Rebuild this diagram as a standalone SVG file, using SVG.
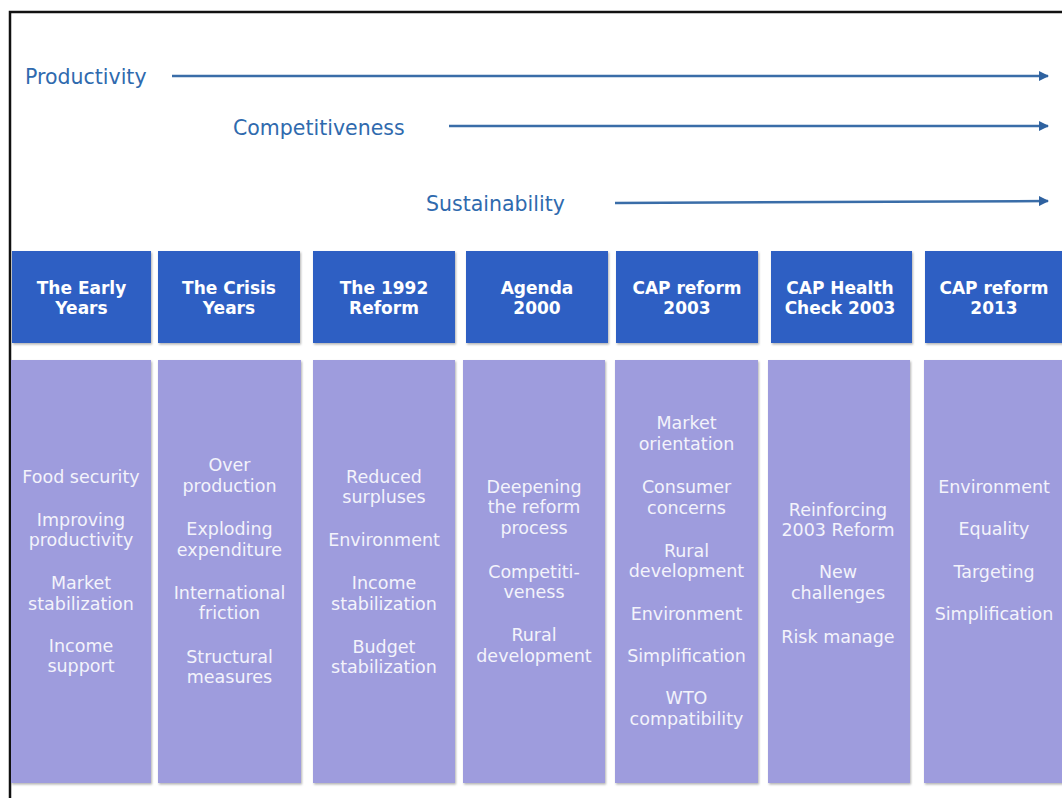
<svg xmlns="http://www.w3.org/2000/svg" width="1062" height="798" viewBox="0 0 1062 798">
<style>
.lbl{font-family:"DejaVu Sans",Verdana,sans-serif;font-size:20.5px;fill:#2F6AAE}
.hd{fill:#2D5FC3}
.bd{fill:#9E9CDD}
.ht{font-family:"DejaVu Sans",Verdana,sans-serif;font-size:17px;font-weight:bold;fill:#FFFFFF;text-anchor:middle}
.bt{font-family:"DejaVu Sans",Verdana,sans-serif;font-size:17.5px;fill:#F3F3FB;text-anchor:middle}
.arr{stroke:#3A6DA8;stroke-width:2.5;fill:none;marker-end:url(#ah)}
</style>
<defs>
<marker id="ah" viewBox="0 0 10 10" refX="9" refY="5" markerWidth="4" markerHeight="4" orient="auto" markerUnits="strokeWidth">
<path d="M0,0 L10,5 L0,10 z" fill="#2F62A0"/>
</marker>
<filter id="sh" x="-5%" y="-5%" width="115%" height="115%">
<feDropShadow dx="1" dy="1.5" stdDeviation="1.2" flood-color="#000" flood-opacity="0.3"/>
</filter>
</defs>
<rect width="1062" height="798" fill="#FFFFFF"/>
<path d="M10,798 V12 H1062" fill="none" stroke="#111" stroke-width="2.5"/>

<g id="labels">
<text class="lbl" x="25" y="84">Productivity</text>
<text class="lbl" x="233" y="135">Competitiveness</text>
<text class="lbl" x="426" y="211">Sustainability</text>
</g>

<g id="connectors">
<line class="arr" x1="172" y1="76" x2="1048" y2="76"/>
<line class="arr" x1="449" y1="126" x2="1048" y2="126"/>
<line class="arr" x1="615" y1="203" x2="1048" y2="201"/>
</g>

<g id="col1">
<rect class="hd" x="12" y="251" width="139" height="92" filter="url(#sh)"/>
<text class="ht" x="81.5" y="294">The Early</text>
<text class="ht" x="81.5" y="314">Years</text>
<rect class="bd" x="11" y="360" width="140" height="423" filter="url(#sh)"/>
<text class="bt" x="81" y="483">Food security</text>
<text class="bt" x="81" y="526">Improving</text>
<text class="bt" x="81" y="546">productivity</text>
<text class="bt" x="81" y="589">Market</text>
<text class="bt" x="81" y="610">stabilization</text>
<text class="bt" x="81" y="652">Income</text>
<text class="bt" x="81" y="672">support</text>
</g>

<g id="col2">
<rect class="hd" x="158" y="251" width="142" height="92" filter="url(#sh)"/>
<text class="ht" x="229" y="294">The Crisis</text>
<text class="ht" x="229" y="314">Years</text>
<rect class="bd" x="158" y="360" width="143" height="423" filter="url(#sh)"/>
<text class="bt" x="229.5" y="471">Over</text>
<text class="bt" x="229.5" y="492">production</text>
<text class="bt" x="229.5" y="535">Exploding</text>
<text class="bt" x="229.5" y="556">expenditure</text>
<text class="bt" x="229.5" y="599">International</text>
<text class="bt" x="229.5" y="619">friction</text>
<text class="bt" x="229.5" y="663">Structural</text>
<text class="bt" x="229.5" y="683">measures</text>
</g>

<g id="col3">
<rect class="hd" x="313" y="251" width="142" height="92" filter="url(#sh)"/>
<text class="ht" x="384" y="294">The 1992</text>
<text class="ht" x="384" y="314">Reform</text>
<rect class="bd" x="313" y="360" width="142" height="423" filter="url(#sh)"/>
<text class="bt" x="384" y="483">Reduced</text>
<text class="bt" x="384" y="503">surpluses</text>
<text class="bt" x="384" y="546">Environment</text>
<text class="bt" x="384" y="589">Income</text>
<text class="bt" x="384" y="610">stabilization</text>
<text class="bt" x="384" y="653">Budget</text>
<text class="bt" x="384" y="673">stabilization</text>
</g>

<g id="col4">
<rect class="hd" x="466" y="251" width="142" height="92" filter="url(#sh)"/>
<text class="ht" x="537" y="294">Agenda</text>
<text class="ht" x="537" y="314">2000</text>
<rect class="bd" x="463" y="360" width="142" height="423" filter="url(#sh)"/>
<text class="bt" x="534" y="493">Deepening</text>
<text class="bt" x="534" y="513">the reform</text>
<text class="bt" x="534" y="534">process</text>
<text class="bt" x="534" y="578">Competiti-</text>
<text class="bt" x="534" y="598">veness</text>
<text class="bt" x="534" y="641">Rural</text>
<text class="bt" x="534" y="662">development</text>
</g>

<g id="col5">
<rect class="hd" x="616" y="251" width="142" height="92" filter="url(#sh)"/>
<text class="ht" x="687" y="294">CAP reform</text>
<text class="ht" x="687" y="314">2003</text>
<rect class="bd" x="615" y="360" width="143" height="423" filter="url(#sh)"/>
<text class="bt" x="686.5" y="429">Market</text>
<text class="bt" x="686.5" y="450">orientation</text>
<text class="bt" x="686.5" y="493">Consumer</text>
<text class="bt" x="686.5" y="514">concerns</text>
<text class="bt" x="686.5" y="557">Rural</text>
<text class="bt" x="686.5" y="577">development</text>
<text class="bt" x="686.5" y="620">Environment</text>
<text class="bt" x="686.5" y="662">Simplification</text>
<text class="bt" x="686.5" y="704">WTO</text>
<text class="bt" x="686.5" y="725">compatibility</text>
</g>

<g id="col6">
<rect class="hd" x="771" y="251" width="141" height="92" filter="url(#sh)"/>
<text class="ht" x="840" y="294">CAP Health</text>
<text class="ht" x="840" y="314">Check 2003</text>
<rect class="bd" x="768" y="360" width="142" height="423" filter="url(#sh)"/>
<text class="bt" x="838" y="516">Reinforcing</text>
<text class="bt" x="838" y="536">2003 Reform</text>
<text class="bt" x="838" y="578">New</text>
<text class="bt" x="838" y="599">challenges</text>
<text class="bt" x="838" y="643">Risk manage</text>
</g>

<g id="col7">
<rect class="hd" x="925" y="251" width="145" height="92" filter="url(#sh)"/>
<text class="ht" x="994" y="294">CAP reform</text>
<text class="ht" x="994" y="314">2013</text>
<rect class="bd" x="924" y="360" width="146" height="423" filter="url(#sh)"/>
<text class="bt" x="994" y="493">Environment</text>
<text class="bt" x="994" y="535">Equality</text>
<text class="bt" x="994" y="578">Targeting</text>
<text class="bt" x="994" y="620">Simplification</text>
</g>
</svg>
